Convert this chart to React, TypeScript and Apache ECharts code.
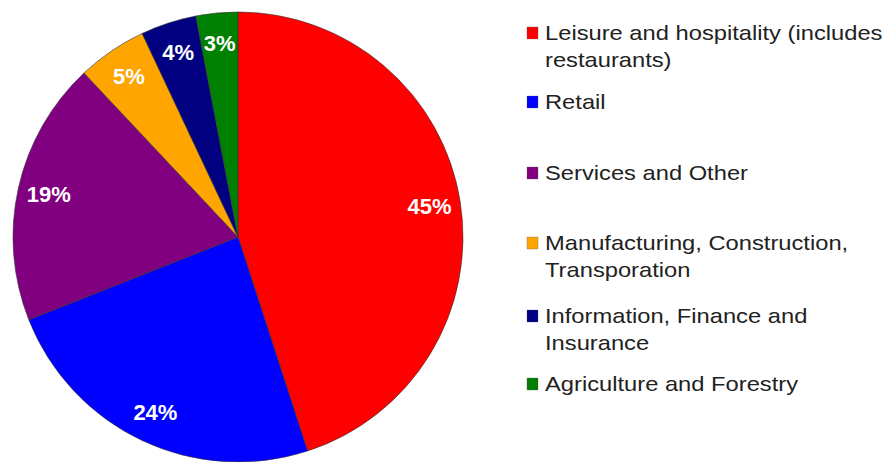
import React, { useEffect, useRef } from "react";
import * as echarts from "echarts";

const categories = [
  "Leisure and hospitality (includes\nrestaurants)",
  "Retail",
  "Services and Other",
  "Manufacturing, Construction,\nTransporation",
  "Information, Finance and\nInsurance",
  "Agriculture and Forestry",
];
const values = [45, 24, 19, 5, 4, 3];
const colors = ["#ff0000", "#0000ff", "#800080", "#ffa500", "#000080", "#008000"];
const legendTops = [19, 88, 159, 229, 302, 370];

export default function App() {
  const ref = useRef<HTMLDivElement>(null);
  useEffect(() => {
    const chart = echarts.init(ref.current!, undefined, { renderer: "svg" });
    const data = categories.map((name, i) => ({ name, value: values[i], itemStyle: { color: colors[i] } }));
    const graphics: any[] = [];
    categories.forEach((name, i) => {
      graphics.push({
        type: "rect",
        x: 527,
        y: legendTops[i] + 8,
        shape: { width: 11, height: 12 },
        style: { fill: colors[i], stroke: "#555", lineWidth: 0.3 },
      });
      graphics.push({
        type: "text",
        x: 545,
        y: legendTops[i],
        scaleX: 1.13,
        style: {
          text: name,
          fill: "#222",
          font: "21px 'Liberation Sans', Arial, sans-serif",
          lineHeight: 27,
          verticalAlign: "top",
          align: "left",
        },
      });
    });
    chart.setOption({
      animation: false,
      backgroundColor: "#ffffff",
      graphic: graphics,
      series: [
        {
          type: "pie",
          center: [238, 237],
          radius: [0, 225],
          startAngle: 90,
          clockwise: true,
          data,
          label: { show: false },
          labelLine: { show: false },
          itemStyle: { borderColor: "#333", borderWidth: 0.6 },
          silent: true,
        },
        {
          type: "pie",
          center: [238, 237],
          radius: [157, 225],
          startAngle: 90,
          clockwise: true,
          silent: true,
          data: categories.map((name, i) => ({ name, value: values[i] })),
          itemStyle: { color: "rgba(0,0,0,0)", borderWidth: 0 },
          label: {
            show: true,
            position: "inside",
            formatter: "{c}%",
            color: "#ffffff",
            fontSize: 22,
            fontWeight: "bold",
            fontFamily: "'Liberation Sans', Arial, sans-serif",
          },
          labelLine: { show: false },
        },
      ],
    });
    return () => chart.dispose();
  }, []);
  return <div ref={ref} style={{ width: 891, height: 462, position: "absolute", left: 0, top: 0 }} />;
}
